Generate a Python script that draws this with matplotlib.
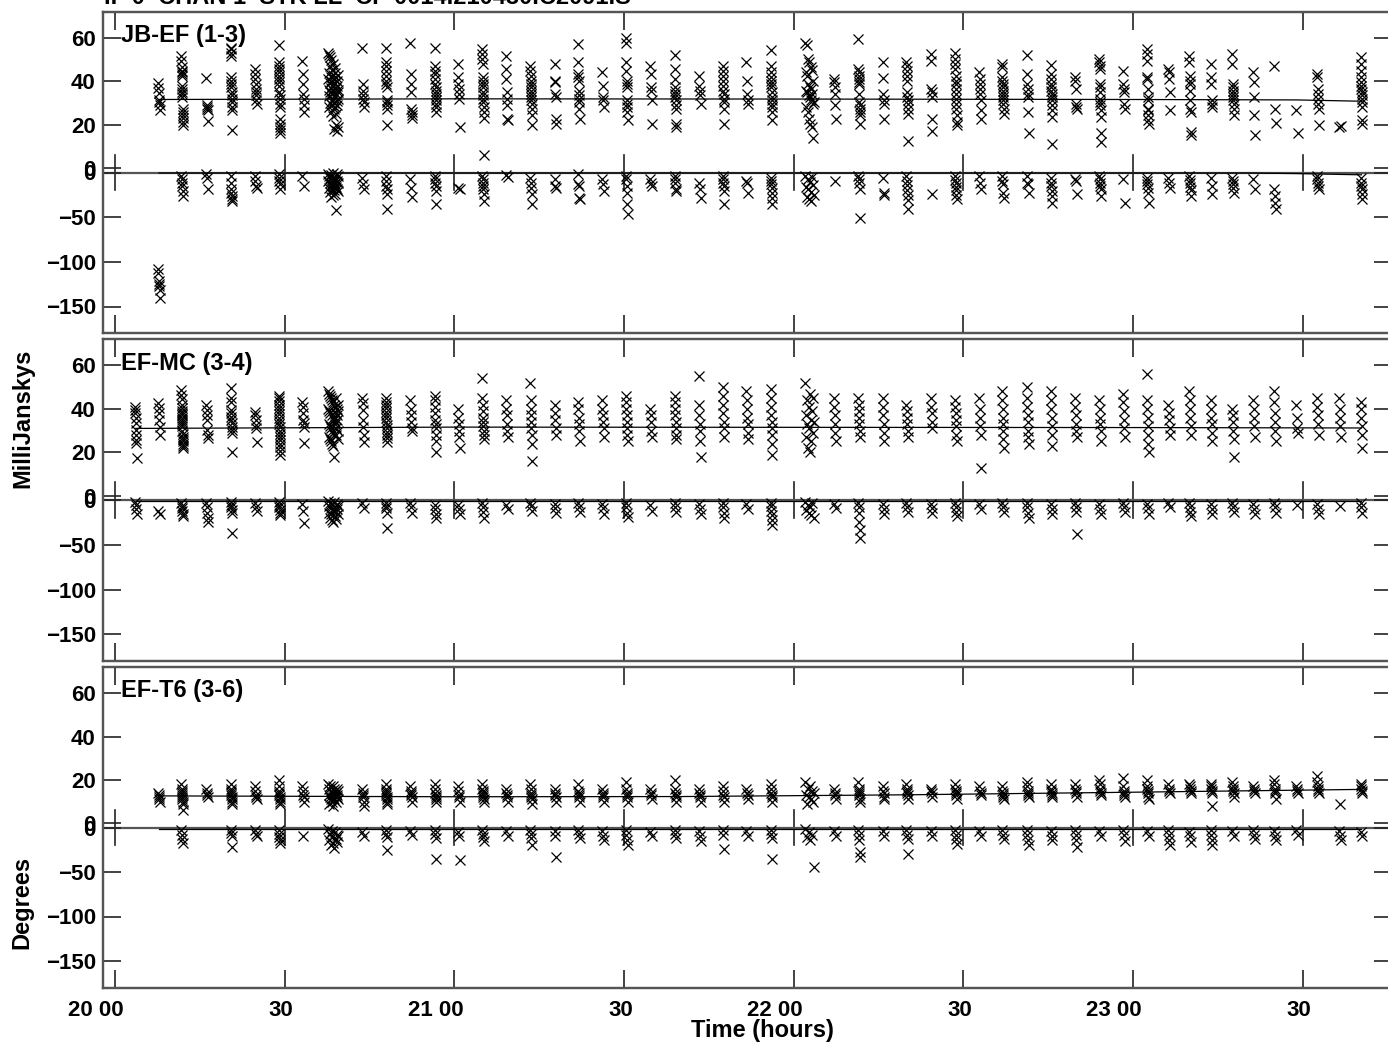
import numpy as np
import matplotlib
matplotlib.use("Agg")
import matplotlib.pyplot as plt
from matplotlib.ticker import FixedLocator
from matplotlib.transforms import ScaledTranslation

plt.rcParams['font.family'] = ['Liberation Sans', 'DejaVu Sans']
plt.rcParams['font.weight'] = 'bold'

# ---------------- DATA ----------------
title = "IF 0  CHAN 1  STK LL  CP 0014.210430.C2091.S"
baselines = ["JB-EF (1-3)", "EF-MC (3-4)", "EF-T6 (3-6)"]

# scan centre times (minutes after 20:00) and scan lengths (minutes)
scan_min = [3.7, 7.8, 11.9, 16.3, 20.6, 24.9, 29.1, 33.3, 38.6, 43.9, 48.0, 52.4, 56.7,
            60.8, 65.1, 69.3, 73.6, 77.9, 82.0, 86.3, 90.5, 94.8, 99.1, 103.4, 107.6,
            111.8, 116.1, 122.8, 127.3, 131.6, 135.9, 140.1, 144.4, 148.7, 153.0, 157.0,
            161.4, 165.6, 169.9, 174.2, 178.4, 182.6, 186.4, 190.1, 193.9, 197.7, 201.4,
            205.1, 209.0, 212.7, 216.6, 220.4]
scan_len = [0.3] * 8 + [1.8] + [0.3] * 18 + [1.5] + [0.3] * 24

# ---- JB-EF amplitude (mJy) per scan
jbef_amp = [
    [],
    [39.2, 36.8, 34.5, 31.2, 30.4, 28.9, 26.6],
    [51.7, 49.4, 46.4, 44.9, 44.1, 43.4, 42.6, 38.0, 36.5, 35.0, 34.2, 32.7, 27.4, 25.9, 24.4, 22.9, 21.4, 19.9],
    [41.5, 28.9, 28.1, 27.4, 26.6, 21.6],
    [55.5, 54.8, 53.2, 51.7, 41.8, 40.3, 38.8, 37.3, 35.0, 33.5, 31.9, 30.4, 28.1, 26.6, 17.5],
    [45.6, 43.3, 41.1, 38.8, 36.5, 35.0, 33.5, 31.2, 29.7],
    [56.7, 48.7, 47.1, 45.6, 44.1, 42.6, 41.1, 39.5, 38.0, 35.0, 33.5, 31.9, 29.7, 28.1, 22.8, 20.5, 19.0, 17.5, 16.0],
    [49.4, 43.3, 38.8, 34.2, 31.9, 28.9, 25.9],
    [53, 41, 36, 52, 44, 33, 28, 51, 39, 35, 30, 47, 42, 37, 26, 50, 40, 34, 31, 45, 38,
     29, 24, 48, 43, 36, 32, 27, 41, 35, 30, 18, 46, 39, 33, 28, 44, 37, 34, 25, 20, 42,
     38, 31, 29, 17, 40, 36, 32, 19, 43, 35],
    [55.1, 38.8, 35.7, 33.5, 31.9, 30.4, 28.1],
    [55.2, 48.7, 47.1, 44.9, 42.6, 40.3, 38.8, 37.3, 31.2, 30.4, 28.9, 27.4, 19.8],
    [57.8, 43.3, 38.8, 35.0, 27.4, 25.9, 24.4, 22.9],
    [55.2, 47.1, 44.9, 43.3, 41.1, 38.8, 37.3, 35.7, 34.2, 32.7, 31.2, 29.7, 28.1, 25.9],
    [47.9, 41.8, 38.8, 36.5, 34.2, 31.9, 19.0],
    [54.8, 52.5, 50.2, 47.9, 41.8, 40.3, 38.8, 37.3, 35.0, 33.5, 31.9, 30.4, 28.1, 25.9, 23.1, 6.1],
    [51.7, 45.6, 41.1, 35.0, 31.9, 28.9, 22.8, 22.1],
    [47.1, 44.9, 42.6, 40.3, 38.8, 37.3, 35.7, 34.2, 32.7, 31.2, 29.7, 27.4, 24.4, 19.8],
    [47.9, 40.3, 39.5, 34.2, 32.7, 22.8, 20.5],
    [57.0, 48.7, 43.3, 41.8, 40.3, 35.7, 33.5, 31.9, 30.4, 27.4, 22.8],
    [44.1, 38.0, 32.7, 31.2, 28.1],
    [60.0, 57.8, 48.7, 44.9, 40.3, 38.8, 37.3, 31.2, 29.7, 28.1, 25.9, 22.1],
    [47.1, 43.3, 37.3, 35.7, 31.2, 20.5],
    [52.0, 45.6, 41.1, 37.3, 35.7, 34.2, 32.7, 31.2, 28.9, 27.4, 20.5, 19.0],
    [42.6, 38.0, 35.7, 33.5, 29.7],
    [47.1, 44.9, 42.6, 40.3, 38.0, 35.7, 34.2, 31.9, 30.4, 27.4, 20.5],
    [49.0, 40.0, 34.2, 31.2, 29.7],
    [54.4, 47.1, 44.1, 41.8, 40.3, 38.8, 37.3, 35.0, 32.7, 31.2, 29.7, 28.1, 25.9, 22.1],
    [57.8, 44.1, 35.7, 28.1, 56.7, 42.6, 35.0, 25.9, 50.2, 38.8, 33.5, 22.8, 48.7, 37.3,
     32.7, 20.5, 46.4, 36.5, 31.2, 19.0, 45.0, 34.0, 29.7, 13.7, 40.0, 30.5],
    [41.1, 39.5, 37.3, 34.2, 28.9, 22.8],
    [59.5, 45.6, 44.1, 42.6, 41.1, 39.5, 38.8, 34.2, 30.4, 28.9, 27.4, 25.9, 24.4, 20.5],
    [48.7, 41.4, 34.2, 31.2, 29.7, 22.8],
    [49.0, 47.1, 44.9, 42.6, 40.3, 35.0, 32.7, 31.2, 29.7, 27.4, 25.1, 12.5],
    [52.5, 49.4, 36.5, 35.0, 32.7, 22.8, 17.0],
    [53.2, 50.2, 47.9, 45.6, 42.6, 40.3, 38.8, 36.5, 34.2, 31.9, 29.7, 27.4, 24.4, 21.3, 19.8],
    [44.1, 41.1, 38.8, 36.5, 34.2, 31.2, 26.6, 22.8],
    [47.9, 46.4, 41.8, 40.3, 38.8, 37.3, 35.7, 34.2, 32.7, 31.2, 29.7, 27.4, 25.1],
    [52.0, 43.3, 38.8, 36.5, 34.2, 32.7, 25.9, 16.0],
    [47.5, 43.3, 41.1, 38.8, 37.3, 35.7, 34.2, 32.7, 31.2, 28.9, 26.6, 23.6, 11.0],
    [41.8, 40.3, 36.5, 29.7, 28.1, 27.4],
    [50.2, 48.7, 47.1, 45.6, 38.8, 37.3, 35.0, 31.9, 30.4, 28.9, 26.6, 23.6, 16.0, 12.2],
    [44.9, 38.8, 36.5, 35.0, 29.7, 27.4],
    [54.8, 52.5, 49.4, 41.8, 41.1, 36.5, 32.7, 31.2, 27.4, 26.6, 24.4, 22.1, 20.5],
    [45.6, 44.1, 41.1, 35.0, 26.6],
    [51.7, 48.7, 42.6, 40.3, 38.8, 35.7, 31.2, 27.4, 25.9, 16.7, 15.2],
    [47.9, 41.8, 38.8, 31.2, 29.7, 28.1],
    [52.5, 47.9, 38.8, 37.3, 35.7, 34.2, 32.7, 31.2, 29.7, 27.4, 24.4],
    [44.1, 39.5, 32.7, 24.4, 15.2],
    [47.1, 27.4, 21.0],
    [26.6, 16.0],
    [43.3, 41.8, 36.5, 34.2, 31.9, 29.7, 27.4, 19.8],
    [19.0, 19.2],
    [51.0, 47.9, 44.9, 41.8, 39.5, 38.0, 36.5, 35.0, 33.5, 31.9, 30.4, 28.1, 22.1, 20.5],
]
# ---- JB-EF phase (degrees) per scan
jbef_phase = [
    [],
    [-108, -112, -121, -125, -127, -131, -141],
    [-3.7, -7.5, -11.2, -15, -20.5, -26],
    [-2, -5.6, -18.7],
    [-3.7, -11.2, -18.7, -22.4, -26.1, -29.9, -31.7],
    [-3.7, -9.3, -15, -16.8],
    [-1.9, -5.6, -9.3, -13, -18.7],
    [-3.7, -15],
    [-2, -9, -17, -4, -12, -22, -6, -14, -27, -3, -10, -19, -7, -15, -25, -1, -11, -20,
     -5, -13, -24, -8, -16, -42, -2, -18, -9, -21, -4, -12],
    [-5.6, -13, -18.7],
    [-3.7, -9.3, -15, -18.7, -24.3, -41],
    [-7.5, -16.8, -27.2],
    [-3.7, -7.5, -11.2, -15, -20.5, -35.4],
    [-16.8, -18.7],
    [-3.7, -7.5, -11.2, -15, -18.7, -24.3, -31.7],
    [-3, -4.5],
    [-5.6, -11.2, -16.8, -24.3, -35.4],
    [-7.5, -15, -16.8],
    [-1.9, -13, -15, -28, -29.9],
    [-7.5, -13, -20.5],
    [-3.7, -7.5, -15, -22.4, -35.4, -46.6],
    [-7.5, -11.2, -15],
    [-3.7, -7.5, -11.2, -18.7, -20.5],
    [-11.2, -18.7, -28],
    [-3.7, -7.5, -11.2, -15, -20.5, -35.4],
    [-9.3, -11.2, -22.4],
    [-5.6, -9.3, -13, -16.8, -22.4, -28, -35.4],
    [-3.7, -16, -27, -7.5, -19, -30, -11, -22, -31.7, -5, -14, -25],
    [-9.3],
    [-3.7, -7.5, -11.2, -18.7, -51],
    [-5.6, -22.4, -25.4],
    [-3.7, -9, -14, -20, -25, -31, -41],
    [-24.3],
    [-3.7, -8, -12, -16, -20, -25, -29.9],
    [-3.7, -11.2, -18.7],
    [-3.7, -9.3, -13, -22.4, -28],
    [-3.7, -11.2, -13, -22.4],
    [-5.6, -11.2, -15, -20.5, -26.1, -33.6],
    [-7.5, -9.3, -24.3],
    [-3.7, -7.5, -11.2, -15, -18.7, -26.1],
    [-7.5, -34.3],
    [-5.6, -9.3, -13, -16.8, -22.4, -33.6],
    [-5.6, -11.2, -16.8],
    [-3.7, -8, -12, -16, -20, -26.1],
    [-5.6, -15, -24.3],
    [-5.6, -9.3, -13, -16.8, -22.4],
    [-7.5, -18.7],
    [-18.7, -26.1, -33.6, -41],
    [],
    [-3.7, -7.5, -11.2, -15, -18.7],
    [],
    [-5.6, -11.2, -15, -18.7, -24.3, -29.9],
]

# ---- EF-MC amplitude / phase per scan
efmc_amp = [
    [40.9, 39.4, 37.9, 35.6, 33.3, 30.2, 27.9, 25.6, 24.1, 17.2],
    [42.6, 40.3, 38.0, 34.8, 31.6, 27.9],
    [48.5, 46.5, 44.5, 42, 40.5, 39, 38, 37, 36, 35, 34, 33, 32, 30, 28.5, 27, 26, 25, 24, 23, 22],
    [41.7, 39.4, 37.1, 34.8, 30.2, 27.9, 26.4],
    [49.4, 44.8, 43.2, 39.4, 37.9, 36.3, 34.8, 33.3, 31.7, 30.2, 28.7, 20.2],
    [38.6, 37.1, 34.8, 32.5, 31.0, 24.9],
    [46, 45, 43.5, 42, 40.5, 39, 37.5, 36, 34.5, 33, 31.5, 30, 28.5, 27, 25.5, 24, 22.5, 20.5, 19],
    [43.2, 40.9, 37.9, 34.8, 33.3, 31.7, 24.1],
    [48, 40, 33, 27, 47, 39, 32, 26, 46, 38, 31, 25, 45, 37, 30, 24, 44, 36, 29, 23, 43,
     35, 28, 18, 42, 34, 41, 36, 33, 38, 45, 31, 28, 40, 35, 37, 42, 30, 26, 39],
    [44.8, 42.5, 39.4, 34.8, 31.7, 27.9, 24.9],
    [44.8, 43.2, 41.7, 40.2, 38.6, 37.1, 35.6, 34, 32.5, 31, 29.4, 27.9, 26.4, 24.9],
    [44, 40, 37, 34, 31, 30],
    [46, 44, 41, 38, 35, 33, 31, 28, 25, 20],
    [40, 36, 33, 30, 27, 22],
    [54, 45, 42, 39, 36, 34, 32, 30, 28, 26],
    [44, 40, 37, 33, 30, 27],
    [52, 44, 40, 37, 34, 31, 28, 24, 16],
    [42, 38, 35, 31, 28],
    [43, 40, 36, 33, 30, 25],
    [44, 40, 37, 34, 31, 27],
    [46, 43, 40, 37, 34, 31, 28, 25],
    [40, 37, 34, 30, 27],
    [46, 43, 40, 37, 34, 31, 28, 26],
    [55, 42, 37, 33, 30, 25, 18],
    [50, 46, 42, 38, 34, 31, 27],
    [48, 44, 40, 36, 33, 29, 26],
    [49, 45, 41, 37, 34, 31, 28, 24, 19],
    [52, 37, 27, 44, 33, 22, 41, 31, 20, 47, 35, 25, 39, 29, 45, 34],
    [45, 41, 37, 33, 29, 25],
    [45, 42, 39, 36, 33, 30, 27],
    [45, 41, 37, 33, 29, 25],
    [42, 39, 36, 33, 30, 27],
    [45, 41, 38, 34, 31],
    [44, 41, 38, 35, 32, 28, 25],
    [45, 40, 36, 32, 28, 13],
    [48, 44, 40, 36, 33, 30, 26, 22],
    [50, 45, 41, 37, 34, 30, 27, 24],
    [48, 44, 40, 36, 32, 28, 23],
    [45, 41, 37, 33, 30, 27],
    [44, 40, 36, 33, 30, 25],
    [47, 43, 39, 35, 31, 27],
    [56, 44, 40, 36, 32, 28, 24, 20],
    [42, 38, 35, 31, 28],
    [48, 44, 40, 36, 32, 28],
    [44, 40, 36, 33, 29, 25],
    [40, 37, 34, 30, 26, 18],
    [44, 40, 36, 32, 27],
    [48, 43, 38, 34, 30, 25],
    [42, 36, 31, 29],
    [45, 41, 37, 33, 28],
    [45, 40, 36, 32, 27],
    [43, 40, 36, 32, 28, 22],
]
efmc_phase = [
    [-2, -5, -10, -16],
    [-12, -15],
    [-3, -6, -9, -12, -15, -18],
    [-3, -8, -14, -20, -25],
    [-2, -5, -8, -11, -14, -37],
    [-3, -8, -12],
    [-2, -5, -8, -11, -14, -17],
    [-4, -12, -26],
    [-1, -14, -7, -20, -3, -16, -9, -22, -5, -12, -25, -2, -18, -8, -13, -21, -4, -10, -15, -6],
    [-3, -9],
    [-3, -6, -9, -14, -31],
    [-3, -8, -14],
    [-5, -10, -16, -20],
    [-5, -10, -15],
    [-3, -8, -13, -20],
    [-5, -10],
    [-3, -7, -12],
    [-4, -9, -14],
    [-3, -8, -13],
    [-4, -9, -15],
    [-3, -8, -14, -19],
    [-5, -12],
    [-3, -8, -13],
    [-4, -10, -16],
    [-3, -8, -14, -20],
    [-4, -10],
    [-3, -7, -12, -17, -22, -28],
    [-2, -11, -5, -14, -8, -17, -3, -20],
    [-4, -9],
    [-3, -8, -14, -24, -33, -42],
    [-4, -10, -15],
    [-3, -8, -13],
    [-4, -9, -14],
    [-3, -8, -13, -18],
    [-4, -10],
    [-3, -8, -13],
    [-3, -8, -14, -20],
    [-4, -10, -16],
    [-3, -8, -13, -38],
    [-4, -10, -16],
    [-3, -8, -13],
    [-4, -9, -15],
    [-3, -8],
    [-3, -8, -13, -18],
    [-4, -10, -15],
    [-3, -8, -13],
    [-4, -10, -16],
    [-3, -8, -14],
    [-5],
    [-4, -10, -15],
    [-6],
    [-3, -8, -14],
]

# ---- EF-T6 amplitude / phase per scan
eft6_amp = [
    [],
    [14, 13, 12, 11, 10],
    [18, 16, 15, 14, 13, 12, 11, 10, 9, 6],
    [16, 14, 13, 12],
    [18, 16, 15, 14, 13, 12, 11, 10, 9],
    [17, 15, 13, 12, 11],
    [20, 17, 15, 14, 13, 12, 11, 10, 9],
    [17, 15, 13, 12, 10],
    [18, 13, 9, 16, 12, 17, 11, 15, 10, 14, 8, 17, 12, 16, 11, 15, 13, 10, 14, 12, 16, 13, 11, 15],
    [16, 14, 13, 12, 10, 8],
    [18, 16, 15, 14, 13, 12, 11, 10, 9],
    [17, 15, 14, 13, 12, 10],
    [18, 16, 14, 13, 12, 11, 10],
    [17, 15, 13, 12, 10],
    [18, 16, 15, 14, 13, 12, 11, 10],
    [16, 14, 13, 12, 10],
    [18, 16, 14, 13, 12, 11, 9],
    [16, 14, 13, 12, 10],
    [18, 15, 14, 13, 12, 10],
    [16, 14, 13, 12, 10],
    [19, 16, 14, 13, 12, 10],
    [16, 14, 13, 11],
    [20, 16, 14, 13, 12, 10],
    [16, 14, 13, 12, 10],
    [17, 15, 13, 12, 10],
    [16, 14, 13, 11],
    [18, 16, 14, 13, 12, 10],
    [19, 13, 9, 16, 12, 17, 11, 15, 10, 14],
    [16, 14, 13, 11],
    [19, 16, 15, 14, 13, 11, 10],
    [17, 15, 14, 12, 11],
    [18, 16, 15, 14, 13, 11],
    [16, 15, 14, 12],
    [18, 16, 15, 14, 13, 11],
    [17, 15, 14, 13],
    [17, 15, 14, 13, 12, 11],
    [19, 17, 15, 14, 13, 12],
    [18, 16, 15, 14, 13, 12],
    [18, 16, 15, 14, 12],
    [20, 18, 16, 15, 14, 13],
    [21, 17, 15, 14, 13, 12],
    [20, 17, 16, 15, 14, 12, 11],
    [18, 16, 15, 14],
    [18, 17, 16, 15, 14],
    [18, 17, 16, 15, 14, 8],
    [19, 17, 16, 15, 14, 12],
    [17, 16, 15, 14],
    [20, 18, 16, 15, 14, 11],
    [17, 16, 15, 14],
    [22, 19, 17, 16, 15, 14],
    [9],
    [18, 17, 16, 15, 14],
]
eft6_phase = [
    [],
    [],
    [-3, -8, -13, -17],
    [],
    [-3, -6, -10, -22],
    [-3, -7, -10],
    [-3, -7, -11, -14, -17],
    [-9],
    [-2, -14, -7, -20, -4, -11, -17, -23, -5, -13, -8, -16, -10],
    [-5, -9],
    [-3, -7, -11, -25],
    [-4, -8],
    [-3, -7, -12, -35],
    [-5, -10, -36],
    [-3, -7, -11, -15],
    [-4, -9],
    [-3, -7, -12, -20],
    [-4, -9, -33],
    [-3, -7, -12],
    [-4, -9, -14],
    [-3, -8, -14, -20],
    [-5, -10],
    [-3, -7, -12],
    [-4, -9, -15],
    [-3, -8, -24],
    [-4, -9],
    [-3, -7, -12, -35],
    [-2, -11, -5, -14, -8, -44],
    [-4, -9],
    [-3, -8, -14, -28, -33],
    [-4, -9],
    [-3, -8, -13, -30],
    [-4, -9],
    [-3, -8, -13, -18],
    [-4, -9],
    [-3, -8, -13],
    [-3, -8, -14, -20],
    [-4, -9, -14],
    [-3, -8, -14, -22],
    [-4, -9],
    [-3, -8, -15],
    [-4, -10],
    [-3, -8, -14, -20],
    [-5, -10, -16],
    [-3, -8, -14, -20],
    [-4, -9],
    [-3, -8, -13],
    [-4, -9, -14],
    [-3, -8],
    [],
    [-4, -9, -14],
    [-5, -9],
]

# model (fit) lines: vertices (minutes after 20:00, value)
jbef_amp_model_t = [7.8, 60.0, 120.0, 180.0, 209.0, 220.4]
jbef_amp_model_v = [31.6, 31.9, 31.8, 31.6, 31.4, 30.8]
jbef_ph_model_t = [7.8, 200.0, 209.0, 220.4]
jbef_ph_model_v = [-0.6, -0.6, -1.2, -2.6]
efmc_amp_model_t = [3.7, 60.0, 120.0, 180.0, 220.4]
efmc_amp_model_v = [31.0, 31.6, 31.5, 31.4, 31.2]
efmc_ph_model_t = [3.7, 220.4]
efmc_ph_model_v = [-0.8, -0.8]
eft6_amp_model_t = [7.8, 60.0, 100.0, 140.0, 180.0, 220.4]
eft6_amp_model_v = [12.6, 12.2, 12.3, 13.1, 14.3, 15.6]
eft6_ph_model_t = [7.8, 220.4]
eft6_ph_model_v = [-1.8, -1.8]

xtick_min = [0, 30, 60, 90, 120, 150, 180, 210]
xtick_lab = ["20 00", "30", "21 00", "30", "22 00", "30", "23 00", "30"]

# ---------------- PLOT ----------------
W, H = 1388, 1045
fig = plt.figure(figsize=(W / 100, H / 100), dpi=100)

x0_min, x1_min = -2.05, 225.8
left_px, right_px = 103.3, 1392.0
panels_px = [(11.7, 333.3), (339.3, 661.0), (667.3, 987.7)]

amp_lists = [jbef_amp, efmc_amp, eft6_amp]
ph_lists = [jbef_phase, efmc_phase, eft6_phase]
amp_models = [(jbef_amp_model_t, jbef_amp_model_v), (efmc_amp_model_t, efmc_amp_model_v),
              (eft6_amp_model_t, eft6_amp_model_v)]
ph_models = [(jbef_ph_model_t, jbef_ph_model_v), (efmc_ph_model_t, efmc_ph_model_v),
             (eft6_ph_model_t, eft6_ph_model_v)]

tick_len = 13
spine_col = '#555555'
FT = 16     # tick labels
FL = 17     # other labels


def spread(center, length, n):
    if n == 1:
        return np.array([center])
    return center + np.linspace(-length / 2, length / 2, n)


for k, (top, bot) in enumerate(panels_px):
    ax = fig.add_axes([left_px / W, 1 - bot / H, (right_px - left_px) / W, (bot - top) / H])
    ax2 = ax.twinx()
    ax.set_xlim(x0_min, x1_min)
    ax.set_ylim(-76, 72)
    ax2.set_ylim(-180, 180)
    for a in (ax, ax2):
        for s in a.spines.values():
            s.set_color(spine_col)
            s.set_linewidth(1.6)
    ax.set_zorder(ax2.get_zorder() + 1)
    ax.patch.set_visible(False)

    ax.yaxis.set_major_locator(FixedLocator([0, 20, 40, 60]))
    ax2.yaxis.set_major_locator(FixedLocator([0, -50, -100, -150]))
    for a in (ax, ax2):
        a.tick_params(axis='y', which='both', direction='in', length=tick_len, width=1.2,
                      color='#222222', left=True, right=True, labelleft=True, labelright=False,
                      labelsize=FT, pad=5.5)
        for lab in a.get_yticklabels():
            lab.set_fontweight('bold')

    ax.set_xticks(xtick_min)
    ax.tick_params(axis='x', direction='in', length=tick_len, width=1.2, color='#222222',
                   top=True, bottom=True, labelbottom=(k == 2), labelsize=FT, pad=9)
    if k == 2:
        ax.set_xticklabels(xtick_lab)
        off = ScaledTranslation(9 / 100, 0, fig.dpi_scale_trans)
        for lab in ax.get_xticklabels():
            lab.set_fontweight('bold')
            lab.set_horizontalalignment('right')
            lab.set_transform(lab.get_transform() + off)

    # central x ticks at the amplitude/phase divide
    for xt in xtick_min:
        ax2.plot([xt, xt], [-20, 20], color='#222222', lw=1.2, zorder=1)
    # phase zero line
    ax2.axhline(0, color=spine_col, lw=1.6, zorder=1)

    # data
    for i, t in enumerate(scan_min):
        a_vals = amp_lists[k][i]
        if len(a_vals):
            ax.plot(spread(t, scan_len[i], len(a_vals)), a_vals, linestyle='none', marker='x',
                    markersize=6.5, markeredgewidth=0.9, color='black')
        p_vals = ph_lists[k][i]
        if len(p_vals):
            ax2.plot(spread(t, scan_len[i], len(p_vals)), p_vals, linestyle='none', marker='x',
                     markersize=6.5, markeredgewidth=0.9, color='black')
    ax.plot(amp_models[k][0], amp_models[k][1], color='black', lw=0.9)
    ax2.plot(ph_models[k][0], ph_models[k][1], color='black', lw=0.9)

    ax.text(0.0137, 0.962, baselines[k], transform=ax.transAxes, ha='left', va='top',
            fontsize=FL, fontweight='bold')

fig.text(23 / W, 1 - 418 / H, "MilliJanskys", rotation=90, ha='center', va='center',
         fontsize=FL, fontweight='bold')
fig.text(22 / W, 1 - 902 / H, "Degrees", rotation=90, ha='center', va='center',
         fontsize=FL, fontweight='bold')
fig.text(762 / W, 1 - 1031 / H, "Time (hours)", ha='center', va='center',
         fontsize=FL, fontweight='bold')
fig.text(104 / W, 1 - 4 / H, title, ha='left', va='baseline', fontsize=FL, fontweight='bold')

fig.savefig("out.png", dpi=100)
